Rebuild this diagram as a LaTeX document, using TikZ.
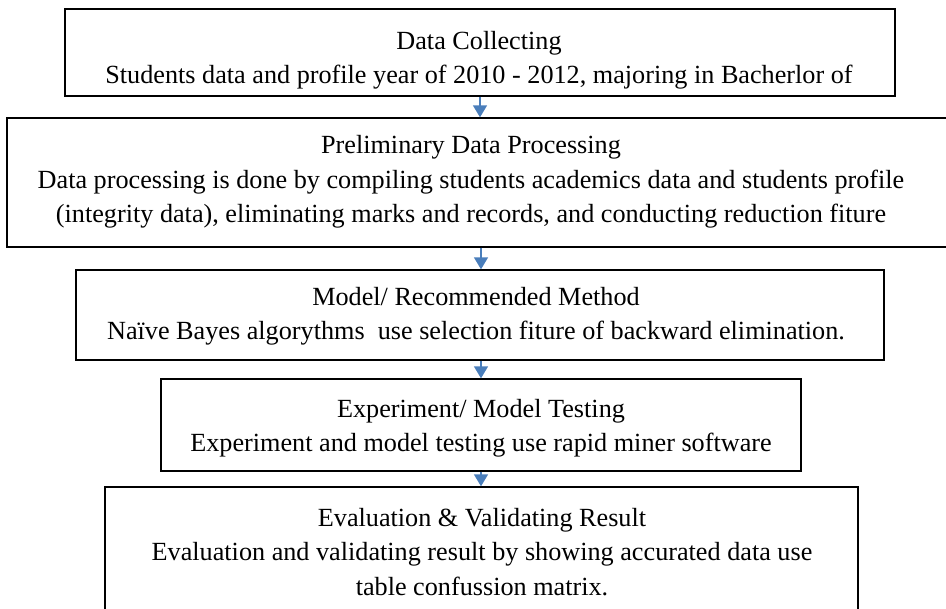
\documentclass[tikz,border=0pt]{standalone}
\usepackage{fontspec}
\setmainfont{Liberation Serif}
\usetikzlibrary{arrows.meta}
\definecolor{arrblue}{HTML}{4A7EBB}
\begin{document}
\begin{tikzpicture}[x=1pt,y=-1pt,
  box/.style={draw=black,line width=1.4pt,inner sep=0pt,minimum width=#1},
  txt/.style={align=center,inner sep=0pt,font=\fontsize{26.2}{34.5}\selectfont},
  arr/.style={draw=arrblue,line width=1.6pt,-{Triangle[width=14pt,length=12pt]}}]
\useasboundingbox (0,0) rectangle (946,609);
% boxes
\node[box=830pt,minimum height=87pt] (b1) at (480,52.5) {};
\node[box=940pt,minimum height=129pt] (b2) at (477,182.5) {};
\node[box=808pt,minimum height=90pt] (b3) at (480,315) {};
\node[box=640pt,minimum height=92pt] (b4) at (481,425) {};
\node[box=753pt,minimum height=125pt] (b5) at (481.5,549.5) {};
% texts
\node[txt] (t1) at (479,60) {Data Collecting\\Students data and profile year of 2010 - 2012, majoring in Bacherlor of};
\node[txt] (t2) at (471,182) {Preliminary Data Processing\\Data processing is done by compiling students academics data and students profile\\(integrity data), eliminating marks and records, and conducting reduction fiture};
\node[txt] (t3) at (476,316) {Model/ Recommended Method\\Naïve Bayes algorythms\ \ use selection fiture of backward elimination.};
\node[txt] (t4) at (481,428) {Experiment/ Model Testing\\Experiment and model testing use rapid miner software};
\node[txt] (t5) at (482,552) {Evaluation \& Validating Result\\Evaluation and validating result by showing accurated data use\\table confussion matrix.};
% arrows
\coordinate (ax1) at (480,0);
\coordinate (ax2) at (481,0);
\draw[arr] (b1.south -| ax1) -- (b2.north -| ax1);
\draw[arr] (b2.south -| ax2) -- (b3.north -| ax2);
\draw[arr] (b3.south -| ax2) -- (b4.north -| ax2);
\draw[arr] (b4.south -| ax2) -- (b5.north -| ax2);
\end{tikzpicture}
\end{document}
